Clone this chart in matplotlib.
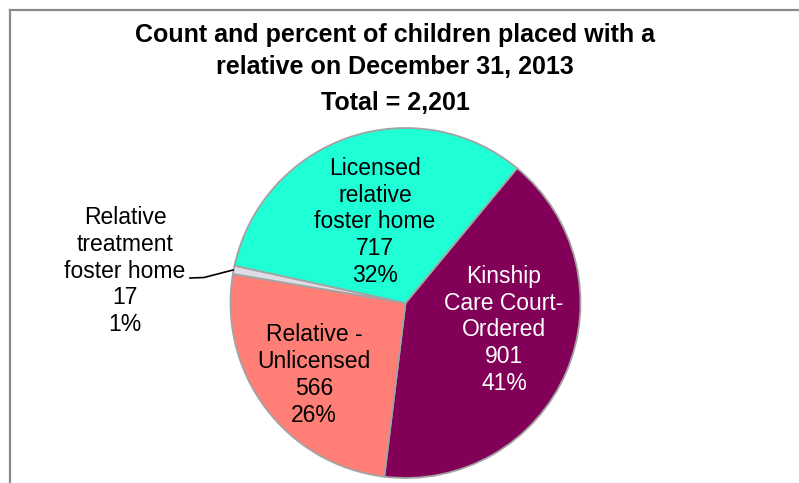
import matplotlib
matplotlib.use("Agg")
import matplotlib.pyplot as plt
from matplotlib.lines import Line2D

plt.rcParams['font.family'] = ['Liberation Sans', 'DejaVu Sans']

categories = ["Kinship\nCare Court-\nOrdered", "Relative -\nUnlicensed",
              "Relative\ntreatment\nfoster home", "Licensed\nrelative\nfoster home"]
counts = [901, 566, 17, 717]
percents = [41, 26, 1, 32]
colors = ["#820057", "#FF7E75", "#DEDCE4", "#1FFFD6"]
text_colors = ["white", "black", "black", "black"]
title = "Count and percent of children placed with a\nrelative on December 31, 2013"
total_label = "Total = 2,201"

W, H = 799, 483
fig = plt.figure(figsize=(W / 100, H / 100), dpi=100)
ax = fig.add_axes([0, 0, 1, 1])

cx, cy, r = 405.5, H - 303, 175
start = 50.4
wedges, _ = ax.pie(counts, colors=colors, startangle=start, counterclock=False,
                   center=(cx, cy), radius=r,
                   wedgeprops=dict(edgecolor="#A3A3A3", linewidth=1.3))
ax.set_xlim(0, W)
ax.set_ylim(0, H)
ax.set_aspect('auto')
ax.axis('off')

labels = [f"{c}\n{n}\n{p}%" for c, n, p in zip(categories, counts, percents)]
label_pos = [(504, 330), (314, 375), (125, 271), (375, 222)]
for lab, (x, y), tc in zip(labels, label_pos, text_colors):
    ax.text(x, H - y, lab, ha="center", va="center", fontsize=16.5,
            color=tc, linespacing=1.22)

# leader line for small slice
ax.add_line(Line2D([190, 204, 233], [H - 278, H - 277.5, H - 270], color="black", lw=1.2))

fig.text(395 / W, 1 - 51 / H, title, ha="center", va="center", fontsize=18,
         fontweight="bold", linespacing=1.42)
fig.text(395 / W, 1 - 103 / H, total_label, ha="center", va="center", fontsize=18,
         fontweight="bold")

# frame
fig.add_artist(Line2D([10 / W, 1], [1 - 10 / H, 1 - 10 / H], transform=fig.transFigure,
                      color="#8A8A8A", lw=1.6))
fig.add_artist(Line2D([10 / W, 10 / W], [1 - 10 / H, 0], transform=fig.transFigure,
                      color="#8A8A8A", lw=1.6))

fig.savefig("out.png", dpi=100)
